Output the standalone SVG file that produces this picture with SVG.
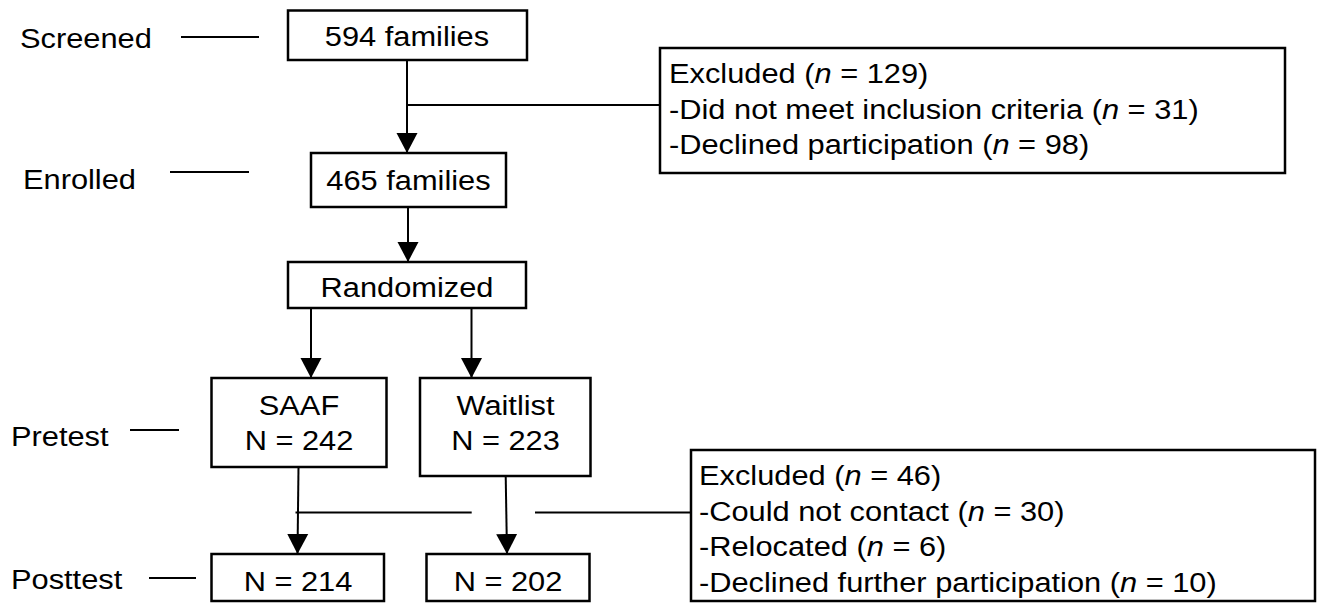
<svg xmlns="http://www.w3.org/2000/svg" width="1323" height="603" viewBox="0 0 1323 603">
<style>
text{font-family:"Liberation Sans",Arial,sans-serif;font-size:28px;fill:#000}
.c{text-anchor:middle}
.i{font-style:italic}
.box{fill:#fff;stroke:#000;stroke-width:2.5}
.ln{stroke:#000;stroke-width:2;fill:none}
.ar{stroke:#000;stroke-width:2;fill:none;marker-end:url(#ah)}
</style>
<defs>
<marker id="ah" markerUnits="userSpaceOnUse" markerWidth="20" markerHeight="22" refX="20" refY="11" orient="auto">
<path d="M0,0.5 L20,11 L0,21.5 z" fill="#000"/>
</marker>
</defs>
<rect width="1323" height="603" fill="#fff"/>
<g id="labels">
<text transform="translate(20,48) scale(1.1,1)">Screened</text>
<line class="ln" x1="181" y1="37" x2="259" y2="37"/>
<text transform="translate(23,189) scale(1.1,1)">Enrolled</text>
<line class="ln" x1="170" y1="172" x2="249" y2="172"/>
<text transform="translate(11,446) scale(1.1,1)">Pretest</text>
<line class="ln" x1="130" y1="430" x2="179" y2="430"/>
<text transform="translate(11,589) scale(1.1,1)">Posttest</text>
<line class="ln" x1="149" y1="578" x2="196" y2="578"/>
</g>
<g id="connectors">
<line class="ar" x1="407" y1="60" x2="407" y2="153"/>
<line class="ln" x1="407" y1="105" x2="660" y2="105"/>
<line class="ar" x1="408" y1="207" x2="408" y2="262"/>
<line class="ar" x1="311" y1="308" x2="311" y2="378"/>
<line class="ar" x1="471.5" y1="308" x2="471.5" y2="378"/>
<line class="ar" x1="298.5" y1="467" x2="297.5" y2="554"/>
<line class="ar" x1="505.7" y1="476" x2="507" y2="554"/>
<line class="ln" x1="295.5" y1="512.5" x2="471.7" y2="512.5"/>
<line class="ln" x1="535" y1="512.5" x2="691" y2="512.5"/>
</g>
<g id="screened">
<rect class="box" x="288" y="10.5" width="239" height="49.5"/>
<text class="c" transform="translate(407,46) scale(1.1,1)">594 families</text>
</g>
<g id="excluded1">
<rect class="box" x="660" y="48" width="625" height="125"/>
<text transform="translate(669,83) scale(1.1,1)">Excluded (<tspan class="i">n</tspan> = 129)</text>
<text transform="translate(669,118.5) scale(1.1,1)">-Did not meet inclusion criteria (<tspan class="i">n</tspan> = 31)</text>
<text transform="translate(669,154) scale(1.1,1)">-Declined participation (<tspan class="i">n</tspan> = 98)</text>
</g>
<g id="enrolled">
<rect class="box" x="311" y="153" width="195" height="54"/>
<text class="c" transform="translate(408.5,190) scale(1.1,1)">465 families</text>
</g>
<g id="randomized">
<rect class="box" x="288" y="262" width="238" height="46"/>
<text class="c" transform="translate(407,297) scale(1.1,1)">Randomized</text>
</g>
<g id="saaf">
<rect class="box" x="211.5" y="378" width="175" height="89"/>
<text class="c" transform="translate(299,415) scale(1.1,1)">SAAF</text>
<text class="c" transform="translate(299,450) scale(1.1,1)">N = 242</text>
</g>
<g id="waitlist">
<rect class="box" x="420" y="378" width="170.5" height="98"/>
<text class="c" transform="translate(505.5,415) scale(1.1,1)">Waitlist</text>
<text class="c" transform="translate(505.5,450) scale(1.1,1)">N = 223</text>
</g>
<g id="excluded2">
<rect class="box" x="691" y="450" width="624" height="151"/>
<text transform="translate(699,485) scale(1.1,1)">Excluded (<tspan class="i">n</tspan> = 46)</text>
<text transform="translate(699,520.6) scale(1.1,1)">-Could not contact (<tspan class="i">n</tspan> = 30)</text>
<text transform="translate(699,556) scale(1.1,1)">-Relocated (<tspan class="i">n</tspan> = 6)</text>
<text transform="translate(699,591.5) scale(1.1,1)">-Declined further participation (<tspan class="i">n</tspan> = 10)</text>
</g>
<g id="post_saaf">
<rect class="box" x="211.5" y="554" width="172.5" height="47"/>
<text class="c" transform="translate(298,591) scale(1.1,1)">N = 214</text>
</g>
<g id="post_waitlist">
<rect class="box" x="426.5" y="554" width="163" height="47"/>
<text class="c" transform="translate(508,591) scale(1.1,1)">N = 202</text>
</g>
</svg>
